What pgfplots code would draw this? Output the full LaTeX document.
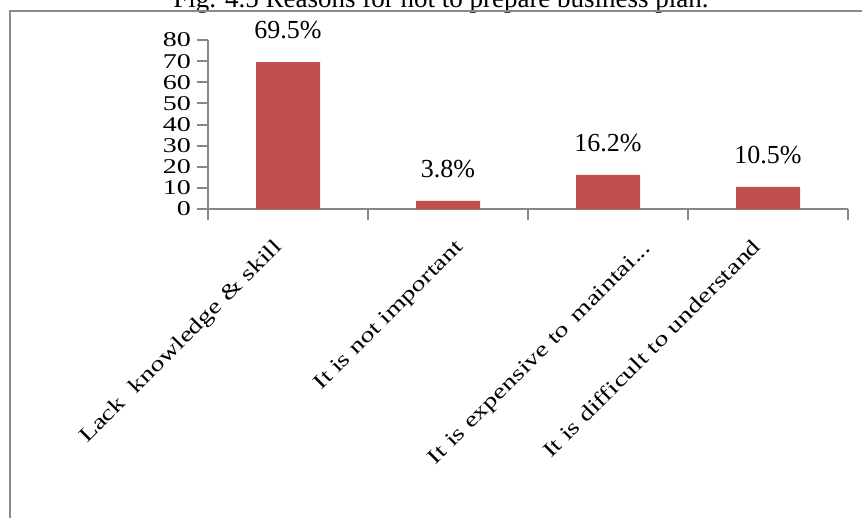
\documentclass[border=0pt]{standalone}
\usepackage{fontspec}
\setmainfont{Liberation Serif}
\usepackage{pgfplots}
\pgfplotsset{compat=1.18}
\definecolor{barred}{HTML}{C0504D}
\definecolor{axgray}{HTML}{868686}
\definecolor{framegray}{HTML}{8A8A8A}
\begin{document}
\begin{tikzpicture}
\clip (0pt,0pt) rectangle (862pt,-517pt);
\node[anchor=base, font=\fontsize{27}{27}\selectfont, inner sep=0pt] at (441pt,-7pt) {Fig. 4.5 Reasons for not to prepare business plan.};
\draw[framegray, line width=2pt] (10pt,-530pt) -- (10pt,-11pt) -- (880pt,-11pt);
\begin{axis}[
  at={(208pt,-209pt)}, anchor=south west,
  scale only axis, width=640pt, height=169pt,
  xmin=-0.5, xmax=3.5, ymin=0, ymax=80,
  axis x line*=bottom, axis y line*=left,
  axis line style={line width=2.2pt, color=axgray, -},
  major tick style={line width=2pt, color=axgray},
  tick align=outside, major tick length=11pt,
  xtick={-0.5,0.5,1.5,2.5,3.5}, xticklabels={},
  ytick={0,10,...,80},
  yticklabel style={font=\fontsize{28}{28}\selectfont, inner sep=0pt, xshift=-6pt},
  yticklabel={\scalebox{1}[0.75]{\pgfmathprintnumber[assume math mode=true]{\tick}}},
  ybar, bar width=64pt,
  nodes near coords, point meta=explicit symbolic,
  nodes near coords style={font=\fontsize{26}{26}\selectfont, anchor=center, yshift=32pt, text=black},
  clip=false,
]
\addplot[fill=barred, draw=none] coordinates {(0,69.5)[69.5\%] (1,3.8)[3.8\%] (2,16.2)[16.2\%] (3,10.5)[10.5\%]};
\end{axis}
\begin{scope}[every node/.style={rotate=45, anchor=base east, font=\fontsize{28}{28}\selectfont, inner sep=0pt}]
\node at (283pt,-248pt) {\scalebox{1}[0.75]{Lack~~knowledge \& skill}};
\node at (464pt,-248pt) {\scalebox{1}[0.75]{It is not important}};
\node at (652pt,-249pt) {\scalebox{1}[0.75]{It is expensive to\hspace{0.35em}maintai...}};
\node at (762pt,-248pt) {\scalebox{1}[0.75]{It is difficult to understand}};
\end{scope}
\end{tikzpicture}
\end{document}
